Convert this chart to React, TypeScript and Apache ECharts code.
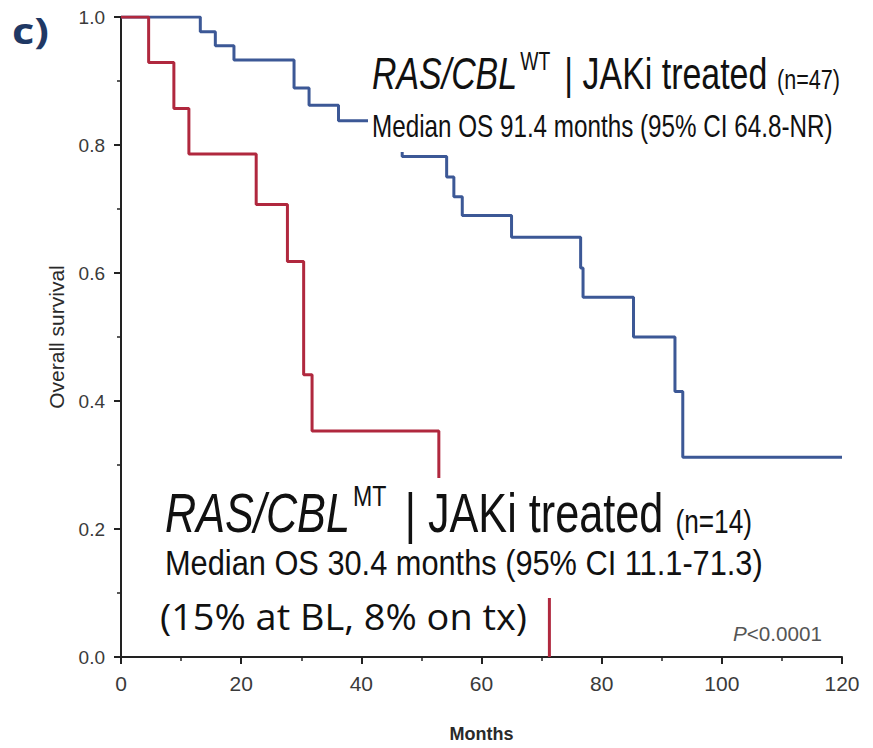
import React, { useEffect, useRef } from "react";
import * as echarts from "echarts";

// ---- data ----
const xTickValues = [0, 20, 40, 60, 80, 100, 120];
const yTickValues = [0, 0.2, 0.4, 0.6, 0.8, 1.0];

const mtMonths = [0, 4.6, 8.8, 11.3, 22.5, 27.7, 30.4, 31.8, 52.9, 71.3];
const mtSurvival = [1, 0.929, 0.857, 0.786, 0.707, 0.618, 0.441, 0.353, 0.177, 0];

const wtMonths = [0, 13.2, 15.7, 18.8, 28.8, 31.3, 36.2, 46.8, 54.2, 55.4, 56.8, 65.0, 76.5, 76.9, 85.3, 92.2, 93.5, 120];
const wtSurvival = [1, 0.977, 0.955, 0.933, 0.889, 0.862, 0.838, 0.782, 0.75, 0.719, 0.69, 0.656, 0.608, 0.562, 0.5, 0.415, 0.312, 0.312];

const BLUE = "#3c5896";
const RED = "#b0283e";
const SANS = '"Liberation Sans", Arial, sans-serif';
const AX_SANS = "Liberation Sans, Arial, sans-serif";
const CAL = '"Open Sans", "Lato", sans-serif';

let measureCtx: CanvasRenderingContext2D | null = null;
function measure(text: string, font: string): number {
  if (!measureCtx) measureCtx = document.createElement("canvas").getContext("2d");
  measureCtx!.font = font;
  return measureCtx!.measureText(text).width;
}

interface Seg {
  text: string;
  size: number;
  italic?: boolean;
  weight?: string;
  family?: string;
  rise?: number;
  pad?: number;
}

function textLine(segs: Seg[], x: number, baseline: number, width: number, fill: string, central = 0.35) {
  let cursor = 0;
  const children: any[] = [];
  segs.forEach((s) => {
    cursor += s.pad || 0;
    const fam = s.family || SANS;
    const font = `${s.italic ? "italic " : ""}${s.weight || "normal"} ${s.size}px ${fam}`;
    children.push({
      type: "text",
      x: cursor,
      y: -central * s.size - (s.rise || 0),
      z: 100,
      style: { text: s.text, font, fill, align: "left", verticalAlign: "middle" },
    });
    cursor += measure(s.text, font);
  });
  return { type: "group", x, y: baseline, scaleX: width / cursor, z: 100, children };
}

export default function App() {
  const ref = useRef<HTMLDivElement>(null);
  useEffect(() => {
    document.body.style.margin = "0";
    const chart = echarts.init(ref.current!, undefined, { renderer: "svg" });

    const graphic: any[] = [
      // white boxes behind the annotations (as in the reference)
      { type: "rect", z: 99, shape: { x: 368, y: 42, width: 490, height: 110 }, style: { fill: "#fff" } },
      { type: "rect", z: 99, shape: { x: 152, y: 478, width: 620, height: 120 }, style: { fill: "#fff" } },
      { type: "rect", z: 99, shape: { x: 152, y: 598, width: 383, height: 47 }, style: { fill: "#fff" } },
      textLine(
        [
          { text: "RAS/CBL", size: 44, italic: true },
          { text: "WT", size: 25, rise: 19, pad: 4 },
          { text: " | JAKi treated ", size: 44, pad: 6 },
          { text: "(n=47)", size: 28 },
        ],
        372, 89, 468, "#111"
      ),
      textLine([{ text: "Median OS 91.4 months (95% CI 64.8-NR)", size: 31 }], 372, 137, 461, "#111"),
      textLine(
        [
          { text: "RAS/CBL", size: 56, italic: true },
          { text: "MT", size: 30, rise: 27, pad: 4 },
          { text: " | JAKi treated ", size: 56, pad: 8 },
          { text: "(n=14)", size: 34 },
        ],
        165, 533, 587, "#111"
      ),
      textLine([{ text: "Median OS 30.4 months (95% CI 11.1-71.3)", size: 35 }], 165, 575, 598, "#111"),
      textLine([{ text: "(15% at BL, 8% on tx)", size: 36, family: CAL }], 160, 630, 367, "#111", 0.39),
      textLine(
        [
          { text: "P", size: 21, italic: true },
          { text: "<0.0001", size: 21 },
        ],
        733, 641, 89, "#555"
      ),
      textLine([{ text: "c)", size: 35, weight: "bold", family: CAL }], 12, 44, 37, "#1f3864", 0.39),
    ];

    const option: any = {
      animation: false,
      backgroundColor: "#fff",
      grid: { left: 121, right: 31, top: 17, bottom: 90, containLabel: false },
      xAxis: {
        type: "value",
        min: xTickValues[0],
        max: xTickValues[xTickValues.length - 1],
        interval: 20,
        name: "Months",
        nameLocation: "middle",
        nameGap: 68,
        nameTextStyle: { fontFamily: AX_SANS, fontSize: 18, fontWeight: "bold", color: "#2a2a2a" },
        axisLine: { show: true, onZero: false, lineStyle: { color: "#222", width: 2 } },
        axisTick: { show: true, length: 7, lineStyle: { color: "#222", width: 2 } },
        minorTick: { show: true, splitNumber: 2, length: 4, lineStyle: { color: "#222", width: 1.5 } },
        axisLabel: { fontFamily: AX_SANS, fontSize: 21, color: "#3a3a3a", margin: 16 },
        splitLine: { show: false },
      },
      yAxis: {
        type: "value",
        min: yTickValues[0],
        max: yTickValues[yTickValues.length - 1],
        interval: 0.2,
        name: "Overall survival",
        nameLocation: "middle",
        nameGap: 54,
        nameRotate: 90,
        nameTextStyle: { fontFamily: AX_SANS, fontSize: 21, color: "#2a2a2a" },
        axisLine: { show: true, onZero: false, lineStyle: { color: "#222", width: 2 } },
        axisTick: { show: true, length: 7, lineStyle: { color: "#222", width: 2 } },
        minorTick: { show: true, splitNumber: 2, length: 4, lineStyle: { color: "#222", width: 1.5 } },
        axisLabel: {
          fontFamily: AX_SANS,
          fontSize: 19,
          color: "#3a3a3a",
          margin: 16,
          formatter: (v: number) => v.toFixed(1),
        },
        splitLine: { show: false },
      },
      series: [
        {
          name: "RAS/CBL WT",
          type: "line",
          step: "end",
          showSymbol: false,
          data: wtMonths.map((m, i) => [m, wtSurvival[i]]),
          lineStyle: { color: BLUE, width: 3 },
          itemStyle: { color: BLUE },
          z: 3,
        },
        {
          name: "RAS/CBL MT",
          type: "line",
          step: "end",
          showSymbol: false,
          data: mtMonths.map((m, i) => [m, mtSurvival[i]]),
          lineStyle: { color: RED, width: 3 },
          itemStyle: { color: RED },
          z: 4,
        },
      ],
      graphic,
    };
    chart.setOption(option);
    return () => chart.dispose();
  }, []);
  return <div ref={ref} style={{ width: 873, height: 748 }} />;
}
